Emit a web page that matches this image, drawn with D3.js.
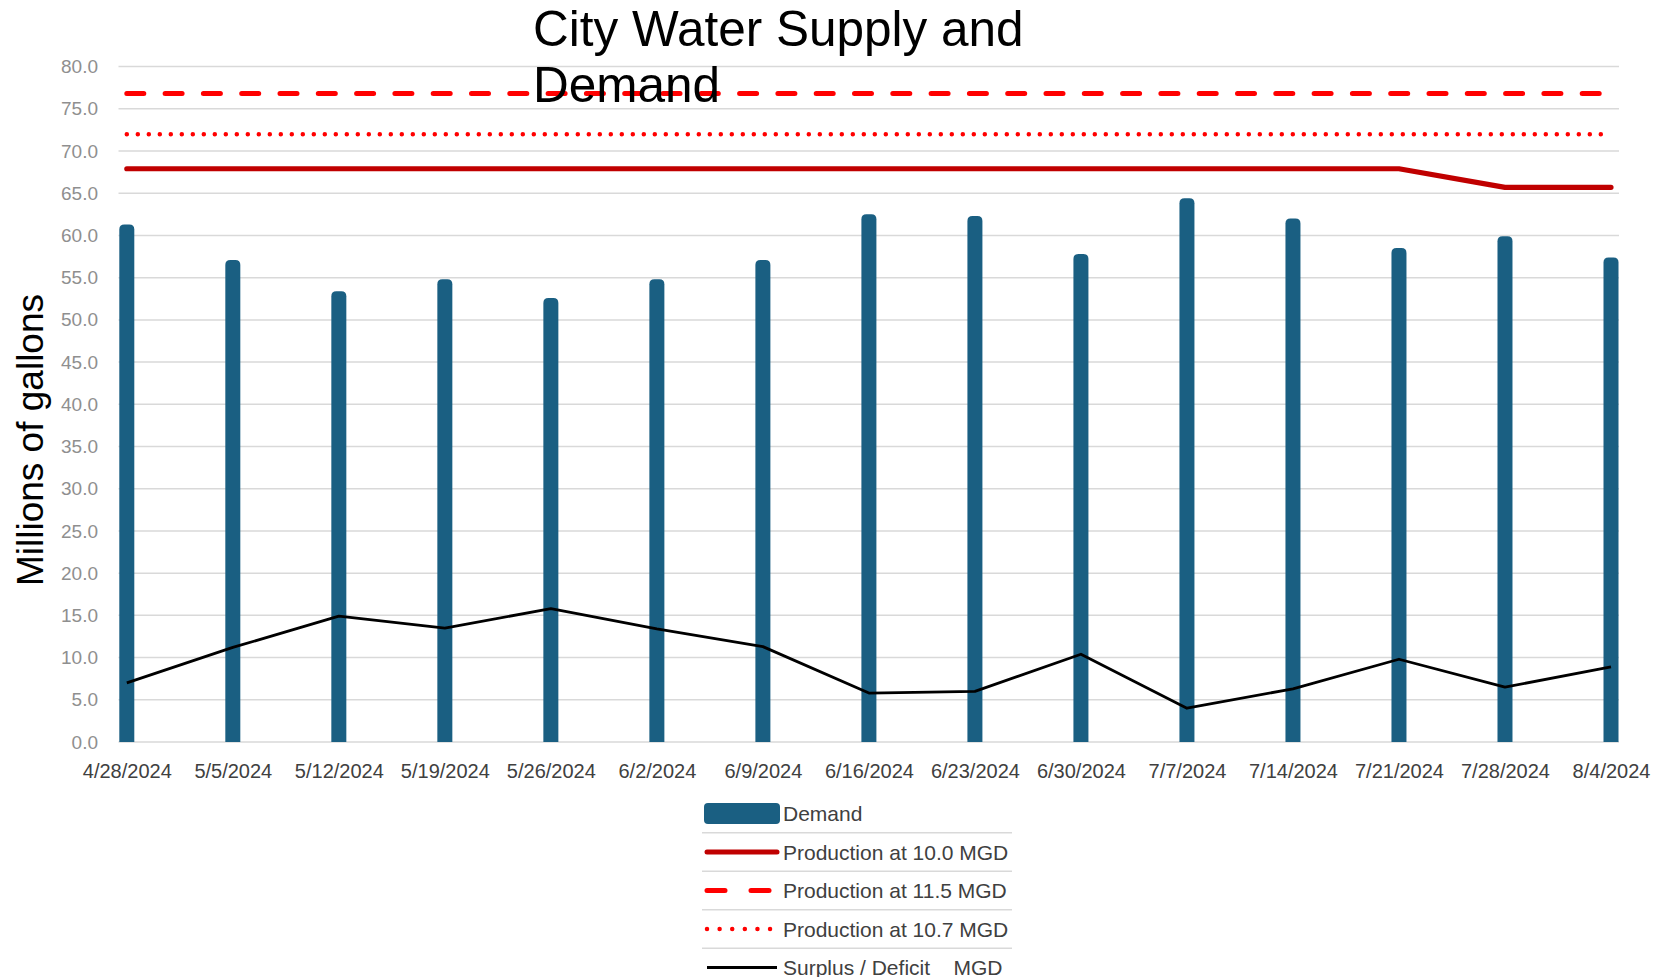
<!DOCTYPE html>
<html>
<head>
<meta charset="utf-8">
<script src="https://cdn.jsdelivr.net/npm/d3@7"></script>
<style>
  html, body { margin: 0; padding: 0; background: #fff; }
  svg { display: block; font-family: "Liberation Sans", Arial, sans-serif; }
</style>
</head>
<body>
<svg id="chart" width="1659" height="977"></svg>
<script>
const dates = ["4/28/2024","5/5/2024","5/12/2024","5/19/2024","5/26/2024","6/2/2024","6/9/2024","6/16/2024","6/23/2024","6/30/2024","7/7/2024","7/14/2024","7/21/2024","7/28/2024","8/4/2024"];
const demand = [61.3, 57.1, 53.4, 54.8, 52.6, 54.8, 57.1, 62.5, 62.3, 57.8, 64.4, 62.0, 58.5, 59.9, 57.4];
const prod100 = [67.9, 67.9, 67.9, 67.9, 67.9, 67.9, 67.9, 67.9, 67.9, 67.9, 67.9, 67.9, 67.9, 65.7, 65.7];
const prod115 = [76.8, 76.8, 76.8, 76.8, 76.8, 76.8, 76.8, 76.8, 76.8, 76.8, 76.8, 76.8, 76.8, 76.8, 76.8];
const prod107 = [72.0, 72.0, 72.0, 72.0, 72.0, 72.0, 72.0, 72.0, 72.0, 72.0, 72.0, 72.0, 72.0, 72.0, 72.0];
const surplus = [7.0, 11.2, 14.9, 13.5, 15.8, 13.4, 11.3, 5.8, 6.0, 10.4, 4.0, 6.3, 9.8, 6.5, 8.9];
const yTicks = [0,5,10,15,20,25,30,35,40,45,50,55,60,65,70,75,80];
const titleLines = ["City Water Supply and", "Demand"];
const yTitle = "Millions of gallons";
const legendLabels = ["Demand", "Production at 10.0 MGD", "Production at 11.5 MGD", "Production at 10.7 MGD", "Surplus / Deficit    MGD"];

const svg = d3.select("#chart");
const plot = {left: 118.5, right: 1619, top: 66.6, bottom: 742};
const barW = 15;

const x = d3.scalePoint().domain(dates).range([plot.left + barW/2 + 0.8, plot.right - barW/2 - 0.5]);
const y = d3.scaleLinear().domain([0, 80]).range([plot.bottom, plot.top]);

// gridlines
svg.append("g").selectAll("line").data(yTicks).join("line")
  .attr("x1", plot.left).attr("x2", plot.right)
  .attr("y1", d => y(d)).attr("y2", d => y(d))
  .attr("stroke", "#d9d9d9").attr("stroke-width", 1.5);

// y axis labels
const yAxis = d3.axisLeft(y).tickValues(yTicks).tickFormat(d3.format(".1f")).tickSize(0).tickPadding(0);
svg.append("g").attr("transform", "translate(98,0)").call(yAxis)
  .call(g => g.select(".domain").remove())
  .selectAll("text").attr("fill", "#8f8f8f").attr("font-size", 19)
  .attr("font-family", "'Liberation Sans', Arial, sans-serif");

// x axis labels
const xAxis = d3.axisBottom(x).tickSize(0).tickPadding(0);
svg.append("g").attr("transform", "translate(0,764)").call(xAxis)
  .call(g => g.select(".domain").remove())
  .selectAll("text").attr("fill", "#404040").attr("font-size", 20)
  .attr("font-family", "'Liberation Sans', Arial, sans-serif");

// bars with rounded tops
function barPath(cx, top, bottom, w, r) {
  const l = cx - w/2, rr = Math.min(r, (bottom - top));
  return `M${l},${bottom} L${l},${top+rr} Q${l},${top} ${l+rr},${top} L${l+w-rr},${top} Q${l+w},${top} ${l+w},${top+rr} L${l+w},${bottom} Z`;
}
svg.append("g").selectAll("path").data(dates).join("path")
  .attr("d", (d, i) => barPath(x(d), y(demand[i]), y(0), barW, 5))
  .attr("fill", "#1a5f82");

const line = d3.line().x((d, i) => x(dates[i])).y(d => y(d));

svg.append("path").datum(prod100).attr("d", line)
  .attr("fill", "none").attr("stroke", "#c00000").attr("stroke-width", 5.2).attr("stroke-linecap", "round").attr("stroke-linejoin", "round");
svg.append("path").datum(prod115).attr("d", line)
  .attr("fill", "none").attr("stroke", "#ff0000").attr("stroke-width", 5).attr("stroke-linecap", "round")
  .attr("stroke-dasharray", "17,21.3");
svg.append("path").datum(prod107).attr("d", line)
  .attr("fill", "none").attr("stroke", "#ff0000").attr("stroke-width", 4.5).attr("stroke-linecap", "round")
  .attr("stroke-dasharray", "0.01,10.99");
svg.append("path").datum(surplus).attr("d", line)
  .attr("fill", "none").attr("stroke", "#000000").attr("stroke-width", 2.8).attr("stroke-linejoin", "round");

// y axis title
svg.append("text").attr("transform", "translate(43,440) rotate(-90)")
  .attr("text-anchor", "middle").attr("font-size", 37).attr("fill", "#000")
  .text(yTitle);

// title
svg.append("g").selectAll("text").data(titleLines).join("text")
  .attr("x", 533).attr("y", (d, i) => 45.5 + i * 56)
  .attr("font-size", 49.5).attr("fill", "#000").text(d => d);

// legend
const lg = svg.append("g");
const rowY = legendLabels.map((d, i) => 813.5 + i * 38.5);
lg.selectAll("line.sep").data([0,1,2,3]).join("line").attr("class", "sep")
  .attr("x1", 702).attr("x2", 1012)
  .attr("y1", i => (rowY[i] + rowY[i+1]) / 2).attr("y2", i => (rowY[i] + rowY[i+1]) / 2)
  .attr("stroke", "#d9d9d9").attr("stroke-width", 1.5);
lg.append("rect").attr("x", 704).attr("y", rowY[0] - 10.5).attr("width", 76).attr("height", 21)
  .attr("rx", 4).attr("fill", "#1a5f82");
const legendStyles = [
  null,
  {c: "#c00000", w: 5, dash: null},
  {c: "#ff0000", w: 5, dash: "18,26"},
  {c: "#ff0000", w: 4.5, dash: "0.01,12.6"},
  {c: "#000000", w: 2.8, dash: null}
];
legendStyles.forEach((s, i) => {
  if (!s) return;
  lg.append("line").attr("x1", 707).attr("x2", 777).attr("y1", rowY[i]).attr("y2", rowY[i])
    .attr("stroke", s.c).attr("stroke-width", s.w).attr("stroke-linecap", i === 4 ? "butt" : "round")
    .attr("stroke-dasharray", s.dash);
});
lg.selectAll("text").data(legendLabels).join("text")
  .attr("x", 783).attr("y", (d, i) => rowY[i] + 7.5)
  .attr("font-size", 21).attr("fill", "#404040")
  .style("white-space", "pre").attr("xml:space", "preserve")
  .text(d => d);
</script>
</body>
</html>
